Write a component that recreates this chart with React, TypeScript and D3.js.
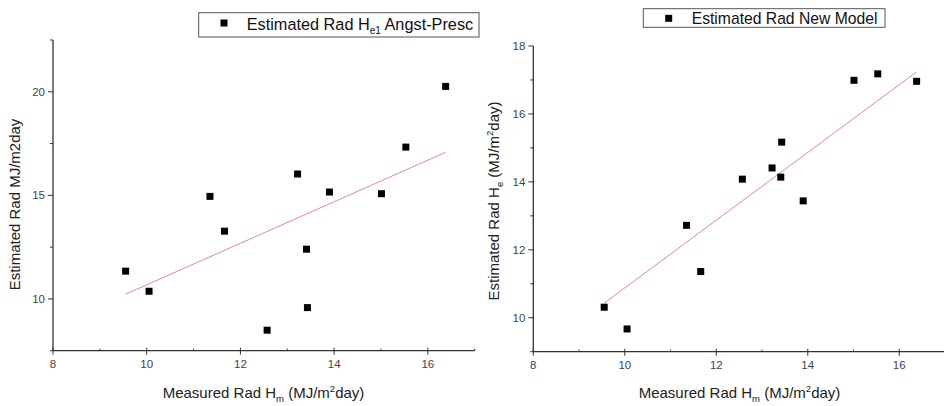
import React from "react";
import * as d3 from "d3";

const measured = [9.55, 10.05, 11.35, 11.66, 12.57, 13.22, 13.41, 13.43, 13.90, 15.01, 15.53, 16.38];
const estAngst = [11.34, 10.37, 14.95, 13.27, 8.49, 16.03, 12.40, 9.58, 15.16, 15.08, 17.33, 20.26];
const estNew = [10.31, 9.67, 12.72, 11.36, 14.08, 14.41, 14.14, 15.17, 13.44, 16.99, 17.18, 16.96];
// fitted line values at first and last measured point
const fitAngst = [10.23, 17.08];
const fitNew = [10.43, 17.24];

const xTicksMajor = [8, 10, 12, 14, 16];
const xTicksMinor = [9, 11, 13, 15, 17];
const yTicksLeftMajor = [10, 15, 20];
const yTicksLeftMinor = [7.5, 12.5, 17.5, 22.5];
const yTicksRightMajor = [10, 12, 14, 16, 18];
const yTicksRightMinor = [9, 11, 13, 15, 17];

const FONT = "'Liberation Sans', Arial, sans-serif";
const AXIS = "#333";
const LINE = "#e58a93";

type PanelProps = {
  xRange: [number, number];
  yDomain: [number, number];
  yRange: [number, number];
  ys: number[];
  fit: number[];
  yMajor: number[];
  yMinor: number[];
};

function Panel({ xRange, yDomain, yRange, ys, fit, yMajor, yMinor }: PanelProps) {
  const x = d3.scaleLinear().domain([8, 17]).range(xRange);
  const y = d3.scaleLinear().domain(yDomain).range(yRange);
  const x0 = xRange[0];
  const yb = yRange[0];
  const line = d3
    .line<[number, number]>()
    .x((d) => x(d[0]))
    .y((d) => y(d[1]));
  const fitPts: [number, number][] = [
    [measured[0], fit[0]],
    [measured[measured.length - 1], fit[1]],
  ];
  return (
    <g>
      <path d={line(fitPts) || ""} stroke={LINE} strokeWidth={1} fill="none" />
      {measured.map((m, i) => (
        <rect key={i} x={x(m) - 3.5} y={y(ys[i]) - 3.5} width={7} height={7} fill="#000" />
      ))}
      <line x1={x0} x2={x0} y1={yRange[1]} y2={yb} stroke={AXIS} strokeWidth={1.3} />
      <line x1={x0} x2={xRange[1]} y1={yb} y2={yb} stroke={AXIS} strokeWidth={1.3} />
      {xTicksMajor.map((t) => (
        <g key={"xm" + t}>
          <line x1={x(t)} x2={x(t)} y1={yb - 3} y2={yb + 4} stroke={AXIS} strokeWidth={1} />
          <text x={x(t)} y={yb + 17} fontSize={11.5} fill="#444" textAnchor="middle" fontFamily={FONT}>
            {t}
          </text>
        </g>
      ))}
      {xTicksMinor.map((t) => (
        <line key={"xn" + t} x1={x(t)} x2={x(t)} y1={yb - 2} y2={yb} stroke={AXIS} strokeWidth={1} />
      ))}
      {yMajor.map((t) => (
        <g key={"ym" + t}>
          <line x1={x0 - 5} x2={x0} y1={y(t)} y2={y(t)} stroke={AXIS} strokeWidth={1} />
          <text x={x0 - 8} y={y(t) + 4} fontSize={11.5} fill="#444" textAnchor="end" fontFamily={FONT}>
            {t}
          </text>
        </g>
      ))}
      {yMinor.map((t) => (
        <line key={"yn" + t} x1={x0 - 3} x2={x0} y1={y(t)} y2={y(t)} stroke={AXIS} strokeWidth={1} />
      ))}
    </g>
  );
}

export default function App() {
  return (
    <svg width={944} height={406} style={{ position: "absolute", left: 0, top: 0 }} fontFamily={FONT}>
      <rect width={944} height={406} fill="#fff" />
      <Panel
        xRange={[53, 474.7]}
        yDomain={[7.5, 22.5]}
        yRange={[350.7, 40]}
        ys={estAngst}
        fit={fitAngst}
        yMajor={yTicksLeftMajor}
        yMinor={yTicksLeftMinor}
      />
      <Panel
        xRange={[533.3, 945]}
        yDomain={[9, 18]}
        yRange={[351.7, 46]}
        ys={estNew}
        fit={fitNew}
        yMajor={yTicksRightMajor}
        yMinor={yTicksRightMinor}
      />

      {/* legends */}
      <rect x={198.7} y={12.7} width={280.3} height={24.3} fill="#fff" stroke="#555" strokeWidth={1} />
      <rect x={220.5} y={19.5} width={7} height={7} fill="#000" />
      <text x={246.7} y={30} fontSize={16.3} fill="#111">
        Estimated Rad H
        <tspan fontSize={10} dy={4}>e1</tspan>
        <tspan dy={-4}> Angst-Presc</tspan>
      </text>

      <rect x={643.3} y={8.7} width={241.7} height={18.6} fill="#fff" stroke="#555" strokeWidth={1} />
      <rect x={665.2} y={14.8} width={7} height={7} fill="#000" />
      <text x={691.7} y={23.8} fontSize={15.7} fill="#111">
        Estimated Rad New Model
      </text>

      {/* x axis titles */}
      <text x={263.5} y={398} fontSize={15} fill="#222" textAnchor="middle">
        Measured Rad H
        <tspan fontSize={9.5} dy={4}>m</tspan>
        <tspan dy={-4}> (MJ/m</tspan>
        <tspan fontSize={9.5} dy={-6}>2</tspan>
        <tspan dy={6}>day)</tspan>
      </text>
      <text x={739.5} y={398} fontSize={15} fill="#222" textAnchor="middle">
        Measured Rad H
        <tspan fontSize={9.5} dy={4}>m</tspan>
        <tspan dy={-4}> (MJ/m</tspan>
        <tspan fontSize={9.5} dy={-6}>2</tspan>
        <tspan dy={6}>day)</tspan>
      </text>

      {/* y axis titles */}
      <text transform="translate(20,204.5) rotate(-90)" fontSize={15} fill="#222" textAnchor="middle">
        Estimated Rad MJ/m2day
      </text>
      <text transform="translate(498.5,201) rotate(-90)" fontSize={15} fill="#222" textAnchor="middle">
        Estimated Rad H
        <tspan fontSize={9.5} dy={4}>e</tspan>
        <tspan dy={-4}> (MJ/m</tspan>
        <tspan fontSize={9.5} dy={-6}>2</tspan>
        <tspan dy={6}>day)</tspan>
      </text>
    </svg>
  );
}
